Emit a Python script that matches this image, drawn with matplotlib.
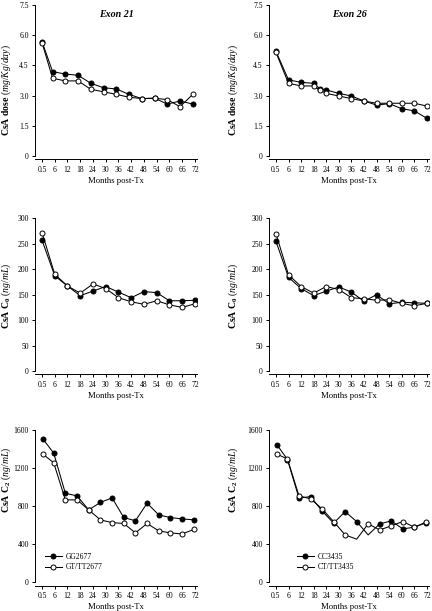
import matplotlib
matplotlib.use('Agg')
import matplotlib.pyplot as plt

# ---------------- data ----------------
x_tick_pos = [0, 6, 12, 18, 24, 30, 36, 42, 48, 54, 60, 66, 72]
x_tick_labels = ['0.5', '6', '12', '18', '24', '30', '36', '42', '48', '54', '60', '66', '72']

# CsA dose (mg/Kg/day)
dose21_x = [0, 5, 11, 17, 23, 29, 35, 41, 47, 53, 59, 65, 71]
dose21_GG = [5.68, 4.19, 4.07, 4.01, 3.61, 3.39, 3.33, 3.06, 2.85, 2.87, 2.58, 2.73, 2.58]
dose21_GT = [5.63, 3.86, 3.73, 3.73, 3.31, 3.19, 3.06, 2.92, 2.85, 2.87, 2.80, 2.45, 3.06]

dose26_x = [0, 6, 12, 18, 21, 24, 30, 36, 42, 48, 54, 60, 66, 72]
dose26_CC = [5.20, 3.78, 3.66, 3.61, 3.33, 3.28, 3.11, 2.98, 2.73, 2.53, 2.60, 2.35, 2.24, 1.87]
dose26_CT = [5.15, 3.61, 3.48, 3.48, 3.26, 3.11, 2.98, 2.85, 2.73, 2.62, 2.62, 2.62, 2.62, 2.48]

# CsA C0 (ng/mL)
c0_x = [0, 6, 12, 18, 24, 30, 36, 42, 48, 54, 60, 66, 72]
c0_21_GG = [257, 187, 167, 148, 157, 166, 155, 144, 156, 154, 138, 138, 139]
c0_21_GT = [272, 190, 167, 153, 171, 162, 144, 136, 131, 138, 130, 125, 132]
c0_26_CC = [255, 184, 162, 148, 157, 165, 155, 137, 150, 132, 135, 134, 133]
c0_26_CT = [270, 189, 166, 153, 166, 160, 144, 142, 139, 140, 133, 128, 133]

# CsA C2 (ng/mL)
c2_x = [0.5, 5.5, 11, 16.5, 22, 27.5, 33, 38.5, 44, 49.5, 55, 60.5, 66, 71.5]
c2_21_GG = [1503, 1358, 935, 908, 761, 839, 887, 681, 646, 831, 708, 680, 666, 656]
c2_21_GT = [1345, 1256, 866, 866, 761, 656, 627, 618, 519, 618, 540, 519, 508, 555]
c2_26_CC = [1445, 1290, 884, 901, 750, 621, 743, 638, 498, 614, 645, 561, 579, 625]
c2_26_CT = [1347, 1295, 908, 877, 772, 638, 498, 453, 614, 550, 593, 638, 579, 631]
c2_26_CC_nomarker = [8]
c2_26_CT_nomarker = [7]

legend21 = ['GG2677', 'GT/TT2677']
legend26 = ['CC3435', 'CT/TT3435']

# ---------------- style ----------------
plt.rcParams['font.family'] = ['Liberation Serif', 'DejaVu Serif']
plt.rcParams['mathtext.fontset'] = 'custom'
plt.rcParams['mathtext.rm'] = 'Liberation Serif'
plt.rcParams['mathtext.it'] = 'Liberation Serif:italic'
plt.rcParams['mathtext.bf'] = 'Liberation Serif:bold'
plt.rcParams['mathtext.bfit'] = 'Liberation Serif:bold:italic'

W, H = 432, 611
fig = plt.figure(figsize=(W / 100, H / 100), dpi=100)

TICK_FS = 5.5
XLAB_FS = 6.2
YLAB_FS = 7.0
MS = 3.6
LW = 0.75


def add_ax(l, t, r, b):
    return fig.add_axes([l / W, 1 - b / H, (r - l) / W, (b - t) / H])


def keep_markers(n, skip):
    return [i for i in range(n) if i not in skip]


def style(ax, ylim, yticks, yticklabels, ylabel, lab_x_px, lab_y_px, geom):
    l, t, r, b = geom
    ax.set_xlim(-3.3, 73)
    ax.set_ylim(*ylim)
    ax.set_yticks(yticks)
    ax.set_yticklabels(yticklabels)
    ax.set_xticks(x_tick_pos)
    ax.set_xticklabels(x_tick_labels)
    for s in ['top', 'right']:
        ax.spines[s].set_visible(False)
    ax.spines['bottom'].set_position(('outward', 2.5))
    for s in ['left', 'bottom']:
        ax.spines[s].set_linewidth(0.7)
    ax.tick_params(axis='both', direction='out', length=2.5, width=0.7,
                   labelsize=TICK_FS, pad=2)
    ax.set_xlabel('Months post-Tx', fontsize=XLAB_FS, labelpad=2.5)
    ax.set_ylabel(ylabel, fontsize=YLAB_FS)
    ax.yaxis.set_label_coords((lab_x_px - l) / (r - l), (b - lab_y_px) / (b - t))


def plot_pair(ax, x, filled, opened, skip_f=(), skip_o=(), labels=None):
    ax.plot(x, filled, '-o', color='black', mfc='black', mec='black',
            ms=MS, lw=LW, mew=0.7, markevery=keep_markers(len(x), skip_f),
            label=labels[0] if labels else None, zorder=3)
    ax.plot(x, opened, '-o', color='black', mfc='white', mec='black',
            ms=MS, lw=LW, mew=0.7, markevery=keep_markers(len(x), skip_o),
            label=labels[1] if labels else None, zorder=4)


dose_label = r'$\mathbf{CsA\ dose}$ $\mathit{(mg/Kg/day)}$'
c0_label = r'$\mathbf{CsA\ C_0}$ $\mathit{(ng/mL)}$'
c2_label = r'$\mathbf{CsA\ C_2}$ $\mathit{(ng/mL)}$'

# column geometry in pixels
L_left, L_right = 35, 197
R_left, R_right = 269, 429
L_lab_x, R_lab_x = 13.5, 240
rows = {1: (5, 156), 2: (218.3, 371), 3: (430, 582.3)}
lab_y = {1: 90, 2: 296, 3: 480}

# Row 1
dose_ticks = [0, 1.5, 3.0, 4.5, 6.0, 7.5]
dose_ticklabels = ['0', '1.5', '3.0', '4.5', '6.0', '7.5']
g = (L_left, rows[1][0], L_right, rows[1][1])
ax = add_ax(*g)
plot_pair(ax, dose21_x, dose21_GG, dose21_GT)
style(ax, (0, 7.5), dose_ticks, dose_ticklabels, dose_label, L_lab_x, lab_y[1], g)
ax.text(0.5, 0.94, 'Exon 21', transform=ax.transAxes, ha='center', va='center',
        fontsize=7.2, fontweight='bold', fontstyle='italic')

g = (R_left, rows[1][0], R_right, rows[1][1])
ax = add_ax(*g)
plot_pair(ax, dose26_x, dose26_CC, dose26_CT)
style(ax, (0, 7.5), dose_ticks, dose_ticklabels, dose_label, R_lab_x, lab_y[1], g)
ax.text(0.5, 0.94, 'Exon 26', transform=ax.transAxes, ha='center', va='center',
        fontsize=7.2, fontweight='bold', fontstyle='italic')

# Row 2
c0_ticks = [0, 50, 100, 150, 200, 250, 300]
g = (L_left, rows[2][0], L_right, rows[2][1])
ax = add_ax(*g)
plot_pair(ax, c0_x, c0_21_GG, c0_21_GT)
style(ax, (0, 300), c0_ticks, [str(v) for v in c0_ticks], c0_label, L_lab_x, lab_y[2], g)

g = (R_left, rows[2][0], R_right, rows[2][1])
ax = add_ax(*g)
plot_pair(ax, c0_x, c0_26_CC, c0_26_CT)
style(ax, (0, 300), c0_ticks, [str(v) for v in c0_ticks], c0_label, R_lab_x, lab_y[2], g)

# Row 3
c2_ticks = [0, 400, 800, 1200, 1600]
g = (L_left, rows[3][0], L_right, rows[3][1])
ax = add_ax(*g)
plot_pair(ax, c2_x, c2_21_GG, c2_21_GT, labels=legend21)
style(ax, (0, 1600), c2_ticks, [str(v) for v in c2_ticks], c2_label, L_lab_x, lab_y[3], g)
ax.legend(loc='upper left', bbox_to_anchor=(0.06, 0.195), frameon=False,
          fontsize=5.5, handlelength=2.2, handletextpad=0.5, labelspacing=0.35,
          borderpad=0, borderaxespad=0)

g = (R_left, rows[3][0], R_right, rows[3][1])
ax = add_ax(*g)
plot_pair(ax, c2_x, c2_26_CC, c2_26_CT, skip_f=c2_26_CC_nomarker,
          skip_o=c2_26_CT_nomarker, labels=legend26)
style(ax, (0, 1600), c2_ticks, [str(v) for v in c2_ticks], c2_label, R_lab_x, lab_y[3], g)
ax.legend(loc='upper left', bbox_to_anchor=(0.175, 0.195), frameon=False,
          fontsize=5.5, handlelength=2.2, handletextpad=0.5, labelspacing=0.35,
          borderpad=0, borderaxespad=0)

fig.savefig('out.png', dpi=100)
